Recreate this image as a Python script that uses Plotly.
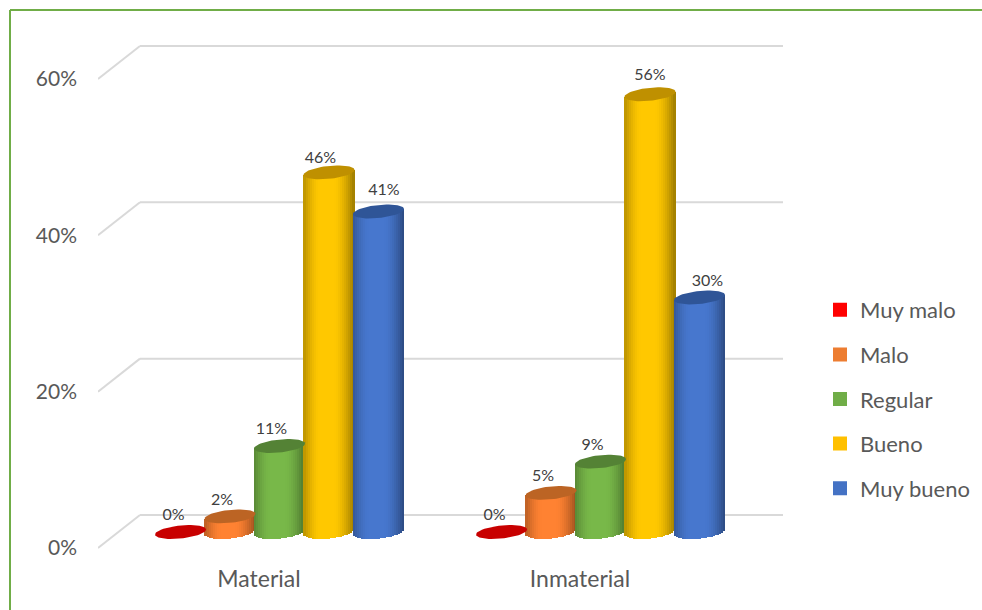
import math
import plotly.graph_objects as go

categories = ["Material", "Inmaterial"]
series_names = ["Muy malo", "Malo", "Regular", "Bueno", "Muy bueno"]
muy_malo = [0, 0]
malo = [2, 5]
regular = [11, 9]
bueno = [46, 56]
muy_bueno = [41, 30]
series_values = [muy_malo, malo, regular, bueno, muy_bueno]
y_ticks = [0, 20, 40, 60]

legend_colors = ["#FF0000", "#ED7D31", "#70AD47", "#FFC000", "#4472C4"]
side_colors = ["#CC0000", "#FF8232", "#78B849", "#FFC800", "#4777CE"]
top_colors = ["#C80000", "#BC6424", "#548235", "#BF9000", "#2F5597"]
FONT = "Lato"
TEXT = "#595959"

# canvas scale: pixels per unit on each axis
W, H = 982, 610
L, R, T, B = 98, 783, 40, 560
PX = 321.0      # px per category
PY = 7.817      # px per percent
Y0_PX = 548
X0_PX = 279.5

xr = [(L - X0_PX) / PX, (R - X0_PX) / PX]
yr = [(Y0_PX - B) / PY, (Y0_PX - T) / PY]

PITCH = 49.5 / PX
A = 25.5 / PX
B_ELL = 6.5 / PY
TILT = 2.5 / PY
DEPTH = 16 / PY          # bars stand in the middle of the floor
BACK_Y = 33 / PY         # back wall offset
BACK_X = 42 / PX
LABEL_X = -20.5 / PX
N = 25

# hand placement of the data labels, (px right, px above the bar top)
label_dx = [[-7, -7], [-8, -8], [-8, -8], [-8.5, 0], [5.5, 8]]
label_dy = [[16, 16], [15, 16], [16, 16], [13, 18], [21, 15]]


def shade(hex_color, t):
    r, g, b = (int(hex_color[i:i + 2], 16) for i in (1, 3, 5))
    d = abs(t + 0.08)
    f = 1.0 if d < 0.3 else 1.0 - 0.38 * ((d - 0.3) / 0.78) ** 1.6
    f = max(f, 0.62)
    return "rgb(%d,%d,%d)" % (r * f, g * f, b * f)


fig = go.Figure()

# cylinder walls: vertical strips whose foot follows the base ellipse
for s, vals in enumerate(series_values):
    xs, ys, bases, cols = [], [], [], []
    for c, v in enumerate(vals):
        if v == 0:
            continue
        cx = c + (s - 2) * PITCH
        for k in range(N):
            t = -1 + (2 * k + 1) / N
            foot = DEPTH + TILT * t - B_ELL * math.sqrt(1 - t * t)
            head = v + DEPTH + TILT * t
            xs.append(cx + t * A)
            bases.append(foot)
            ys.append(head - foot)
            cols.append(shade(side_colors[s], t))
    fig.add_trace(go.Bar(x=xs, y=ys, base=bases, width=2 * A / N * 1.02,
                         marker=dict(color=cols, line=dict(width=0)),
                         showlegend=False, hoverinfo="skip"))

# cylinder lids
for s, vals in enumerate(series_values):
    for c, v in enumerate(vals):
        cx = c + (s - 2) * PITCH
        ex, ey = [], []
        for k in range(61):
            th = 2 * math.pi * k / 60
            ex.append(cx + A * math.cos(th))
            ey.append(v + DEPTH + TILT * math.cos(th) + B_ELL * math.sin(th))
        fig.add_trace(go.Scatter(x=ex, y=ey, mode="lines", fill="toself",
                                 fillcolor=top_colors[s],
                                 line=dict(width=0, color=top_colors[s]),
                                 showlegend=False, hoverinfo="skip"))

# data labels
lx, ly, lt = [], [], []
for s, vals in enumerate(series_values):
    for c, v in enumerate(vals):
        lx.append(c + (s - 2) * PITCH + label_dx[s][c] / PX)
        ly.append(v + DEPTH + label_dy[s][c] / PY)
        lt.append("%d%%" % v)
fig.add_trace(go.Scatter(x=lx, y=ly, text=lt, mode="text",
                         textposition="middle center",
                         textfont=dict(family=FONT, size=16, color="#404040"),
                         showlegend=False, hoverinfo="skip"))

# legend entries
for name, col in zip(series_names, legend_colors):
    fig.add_trace(go.Bar(x=[None], y=[None], name=name, legendgroup=name,
                         marker=dict(color=col, line=dict(color=col, width=2))))

# walls: floor/back lines
shapes = []
grid = dict(color="#D9D9D9", width=2)
for v in y_ticks:
    shapes.append(dict(type="line", xref="x", yref="y", layer="below",
                       x0=xr[0], y0=v, x1=xr[0] + BACK_X, y1=v + BACK_Y, line=grid))
    shapes.append(dict(type="line", xref="x", yref="y", layer="below",
                       x0=xr[0] + BACK_X, y0=v + BACK_Y, x1=xr[1], y1=v + BACK_Y, line=grid))

# green frame (left + top)
PW, PH = R - L, B - T
def px(x): return (x - L) / PW
def py(y): return (B - y) / PH
frame = dict(color="#70AD47", width=2)
shapes.append(dict(type="line", xref="paper", yref="paper",
                   x0=px(10), y0=py(610), x1=px(10), y1=py(10), line=frame))
shapes.append(dict(type="line", xref="paper", yref="paper",
                   x0=px(10), y0=py(10), x1=px(982), y1=py(10), line=frame))

fig.update_layout(
    width=W, height=H, autosize=False,
    margin=dict(l=L, r=W - R, t=T, b=H - B, pad=0, autoexpand=False),
    paper_bgcolor="white", plot_bgcolor="rgba(0,0,0,0)",
    barmode="overlay", bargap=0,
    font=dict(family=FONT, color=TEXT),
    shapes=shapes,
    xaxis=dict(range=xr, showgrid=False, zeroline=False, showline=False,
               tickmode="array",
               tickvals=[i + LABEL_X for i in range(len(categories))],
               ticktext=categories, ticks="", ticklabelstandoff=3,
               tickfont=dict(family=FONT, size=23, color=TEXT)),
    yaxis=dict(range=yr, showgrid=False, zeroline=False, showline=False,
               tickmode="array", tickvals=y_ticks,
               ticktext=["%d%%" % v for v in y_ticks], ticks="",
               ticklabelstandoff=20,
               tickfont=dict(family=FONT, size=21, color=TEXT)),
    legend=dict(x=px(820), y=py(289), xanchor="left", yanchor="top",
                bgcolor="rgba(0,0,0,0)", tracegroupgap=13, itemwidth=30,
                traceorder="grouped",
                font=dict(family=FONT, size=22, color=TEXT)),
)

fig.write_html("out.html", config=dict(displayModeBar=False),
               post_script="document.body.style.margin='0';document.documentElement.style.overflow='hidden';")
